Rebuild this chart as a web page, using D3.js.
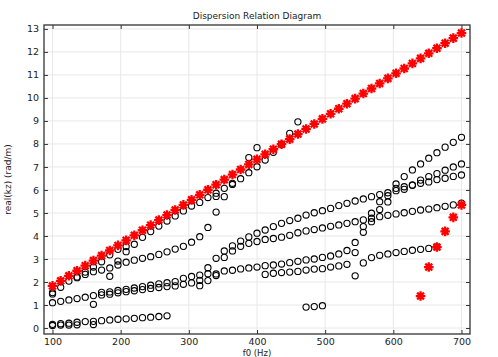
<!DOCTYPE html>
<html><head><meta charset="utf-8">
<script src="https://cdn.jsdelivr.net/npm/d3@7"></script>
<style>body{margin:0;background:#fff}svg{display:block}text{font-family:"DejaVu Sans",sans-serif}</style>
</head><body>
<svg id="c" width="498" height="357"></svg>
<script>
const _ = null;
const freqs = [100,112,124,136,148,160,172,184,196,208,220,232,244,256,268,280,292,304,316,328,340,352,364,376,388,400,412,424,436,448,460,472,484,496,508,520,532,544,556,568,580,592,604,616,628,640,652,664,676,688,700];
const xTicks = [100,200,300,400,500,600,700];
const yTicks = [0,1,2,3,4,5,6,7,8,9,10,11,12,13];

// red star series (plane wave)
const starMain = [1.83,2.05,2.27,2.49,2.71,2.93,3.15,3.37,3.59,3.81,4.03,4.25,4.47,4.69,4.91,5.13,5.35,5.57,5.79,6.01,6.23,6.45,6.67,6.89,7.11,7.33,7.55,7.77,7.99,8.21,8.43,8.65,8.87,9.09,9.31,9.53,9.75,9.97,10.19,10.41,10.63,10.85,11.07,11.28,11.50,11.72,11.94,12.16,12.38,12.60,12.82];
const starLowStart = 640;
const starLow = [1.39,2.65,3.52,4.20,4.81,5.35];

// black circle series: start frequency + consecutive values
const modeB0Start = 100, modeB0 = [0.16,0.19,0.21,0.25,0.28,0.29,0.32,0.35,0.38,0.40,0.42,0.45,0.47,0.50,0.53];
const modeB0bStart = 100, modeB0b = [0.11,0.13,0.13,0.14,_,0.15];
const modeB1Start = 100, modeB1 = [1.10,1.16,1.22,1.28,1.34,1.41,1.44,1.47,1.53,1.58,1.62,1.67,1.72,1.76,1.80,1.83,1.90,1.96,1.84,2.06,2.28];
const modeB2Start = 172, modeB2 = [1.55,1.57,1.63,1.68,1.74,1.80,1.86,1.92,1.97,2.02,2.16,2.24,2.07,2.36,2.35];
const modeUStart = 100, modeU = [1.54,1.77,2.04,2.22,2.43,2.65,2.88,3.18,3.42,3.54,3.64,3.94,4.19,4.43,4.65,4.87,5.09,5.30,5.46,5.67,5.86,6.07,6.29,6.49,6.75,7.01,7.30,7.64,7.99];
const modeMStart = 100, modeM = [1.48,_,_,2.19,2.33,2.45,2.52,2.61,2.74,2.86,2.95,3.03,3.10,3.20,3.31,3.43,3.55,3.73,3.97,4.37,5.04,5.71];
const modeHStart = 316, modeH = [2.30,2.62,3.03,3.35,3.57,3.78,3.96,4.12,4.26,4.41,4.55,4.67,4.77,4.91,5.01,5.10,5.20,5.32,5.42,5.52,5.61,5.71,5.80,5.88,6.07,6.14,6.22,6.29,6.35,6.45,6.51,6.59,6.65];
const modeGStart = 352, modeG = [3.07,3.35,3.55,3.68,3.76,3.85,3.89,3.95,4.03,4.14,4.22,4.28,4.35,4.42,4.48,4.55,4.62,4.70,4.77,4.84,4.90,4.96,5.01,5.07,5.13,5.17,5.23,5.29,5.35,5.43];
const modeKStart = 352, modeK = [2.48,2.51,2.57,2.61,2.65,2.71,2.74,2.78,2.84,2.90,2.96,3.00,3.07,3.13,3.22,3.37,3.28];
const modeJStart = 412, modeJ = [2.33,2.38,2.41,2.43,2.46,2.52,2.56,2.58,2.65,2.70,2.77,2.27];
const modeJ2Start = 556, modeJ2 = [2.83,3.06,3.16,3.22,3.28,3.33,3.38,3.42,3.46,3.53];
const modeR1Start = 544, modeR1 = [3.72,4.41,4.99,5.49,5.75,6.26,6.58,6.87,7.13,7.38,7.62,7.86,8.07,8.29];
const modeR2Start = 556, modeR2 = [4.16,4.62,5.15,5.48,5.97,6.03,6.20,6.43,6.58,6.71,6.86,7.00,7.13];
const modeLowStart = 472, modeLow = [0.91,0.93,0.97];
const strayFreqs = [160,184,196,208,340,364,388,400,448,460];
const strayVals  = [1.03,2.25,2.91,3.32,5.72,6.24,7.41,7.84,8.46,8.96];

const circleSets = [
  [modeB0Start,modeB0],[modeB0bStart,modeB0b],[modeB1Start,modeB1],[modeB2Start,modeB2],
  [modeUStart,modeU],[modeMStart,modeM],[modeHStart,modeH],[modeGStart,modeG],
  [modeKStart,modeK],[modeJStart,modeJ],[modeJ2Start,modeJ2],[modeR1Start,modeR1],
  [modeR2Start,modeR2],[modeLowStart,modeLow]
];
const circles = [];
circleSets.forEach(([s,vals])=>{
  const i0 = freqs.indexOf(s);
  vals.forEach((v,j)=>{ if(v!==null) circles.push([freqs[i0+j], v]); });
});
strayFreqs.forEach((f,i)=>circles.push([f, strayVals[i]]));

const stars = starMain.map((v,i)=>[freqs[i],v]);
const i0s = freqs.indexOf(starLowStart);
starLow.forEach((v,j)=>stars.push([freqs[i0s+j],v]));

const svg = d3.select("#c");
const L=44,R=470,T=25,B=334;
const x = d3.scaleLinear().domain([87.5,712.5]).range([L,R]);
const y = d3.scaleLinear().domain([-0.26,13.17]).range([B,T]);

// grid
svg.append("g").selectAll("line").data(xTicks).join("line")
  .attr("x1",d=>x(d)).attr("x2",d=>x(d)).attr("y1",T).attr("y2",B)
  .attr("stroke","#e8e8e8").attr("stroke-width",1);
svg.append("g").selectAll("line").data(yTicks).join("line")
  .attr("y1",d=>y(d)).attr("y2",d=>y(d)).attr("x1",L).attr("x2",R)
  .attr("stroke","#e8e8e8").attr("stroke-width",1);

// circles
svg.append("g").selectAll("circle").data(circles).join("circle")
  .attr("cx",d=>x(d[0])).attr("cy",d=>y(d[1])).attr("r",3.1)
  .attr("fill","none").attr("stroke","#000").attr("stroke-width",1.1);

// stars
const rs=4.8;
const starPath = `M0,${-rs}L0,${rs}M${-rs},0L${rs},0M${-rs*0.72},${-rs*0.72}L${rs*0.72},${rs*0.72}M${-rs*0.72},${rs*0.72}L${rs*0.72},${-rs*0.72}`;
svg.append("g").selectAll("path").data(stars).join("path")
  .attr("transform",d=>`translate(${x(d[0])},${y(d[1])})`)
  .attr("d",starPath).attr("stroke","#ff0000").attr("stroke-width",2.3).attr("fill","none");

// axes
const fs = "9.5px";
const gx = svg.append("g").attr("transform",`translate(0,${B})`)
  .call(d3.axisBottom(x).tickValues(xTicks).tickSize(-4).tickPadding(4).tickSizeOuter(0));
const gy = svg.append("g").attr("transform",`translate(${L},0)`)
  .call(d3.axisLeft(y).tickValues(yTicks).tickSize(-4).tickPadding(5).tickSizeOuter(0));
const gt = svg.append("g").attr("transform",`translate(0,${T})`)
  .call(d3.axisTop(x).tickValues(xTicks).tickSize(-4).tickFormat("").tickSizeOuter(0));
const gr = svg.append("g").attr("transform",`translate(${R},0)`)
  .call(d3.axisRight(y).tickValues(yTicks).tickSize(-4).tickFormat("").tickSizeOuter(0));
[gx,gy,gt,gr].forEach(g=>{
  g.selectAll("path.domain").remove();
  g.selectAll("line").attr("stroke","#333").attr("stroke-width",1);
  g.selectAll("text").attr("fill","#222").style("font-size",fs).style("font-family","DejaVu Sans");
});
svg.append("rect").attr("x",L).attr("y",T).attr("width",R-L).attr("height",B-T)
  .attr("fill","none").attr("stroke","#333").attr("stroke-width",1.3);

svg.append("text").attr("x",(L+R)/2).attr("y",19).attr("text-anchor","middle")
  .style("font-size","9px").attr("fill","#222").text("Dispersion Relation Diagram");
svg.append("text").attr("x",(L+R)/2).attr("y",356).attr("text-anchor","middle")
  .style("font-size","8.5px").attr("fill","#222").text("f0 (Hz)");
svg.append("text").attr("transform",`translate(11,${(T+B)/2}) rotate(-90)`).attr("text-anchor","middle")
  .style("font-size","9px").attr("fill","#222").text("real(kz) (rad/m)");
</script>
</body></html>
